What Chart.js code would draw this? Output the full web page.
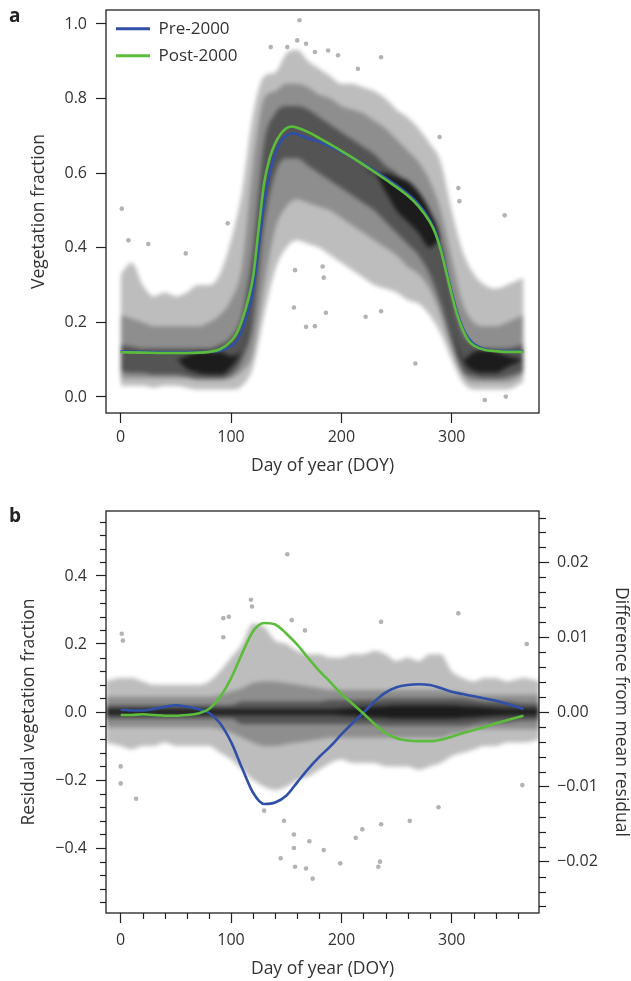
<!DOCTYPE html>
<html>
<head>
<meta charset="utf-8">
<script src="https://cdn.jsdelivr.net/npm/chart.js@4.4.1/dist/chart.umd.min.js"></script>
<style>
  body { margin: 0; background: #fff; width: 631px; height: 981px; position: relative; overflow: hidden; font-family: 'Open Sans', sans-serif; }
  .panel { position: absolute; left: 0; width: 631px; }
  .panel canvas { position: absolute; left: 0; top: 0; }
  .cloud { filter: blur(2px); }
  #cloudA { clip-path: inset(10px 92px 77px 106px); }
  #cloudB { clip-path: inset(21px 92px 68px 106px); }
  .tag { position: absolute; left: 9px; font-weight: 700; font-size: 19px; line-height: 19px; color: #222; z-index: 2; }
</style>
</head>
<body>
<div class="tag" style="top:6px">a</div>
<div class="panel" style="top:0;height:490px">
  <canvas id="cloudA" class="cloud" width="631" height="490"></canvas>
  <canvas id="chartA" width="631" height="490"></canvas>
</div>
<div class="tag" style="top:506px">b</div>
<div class="panel" style="top:490px;height:491px">
  <canvas id="cloudB" class="cloud" width="631" height="491"></canvas>
  <canvas id="chartB" width="631" height="491"></canvas>
</div>
<script>
// ---- panel a: vegetation fraction ----
const doyA = [0,10,20,30,40,50,60,70,80,90,100,110,120,130,140,150,160,170,180,190,200,210,220,230,240,250,260,270,280,290,300,310,320,330,340,350,365];
const curveDoyA = [0,20,40,60,80,90,100,105,110,115,120,125,130,135,140,145,150,155,160,170,180,200,220,240,260,270,280,285,290,295,300,305,310,315,320,330,340,350,365];
const preA  = [0.122,0.121,0.120,0.120,0.121,0.124,0.136,0.150,0.180,0.225,0.286,0.400,0.520,0.600,0.653,0.685,0.700,0.707,0.705,0.693,0.684,0.657,0.625,0.588,0.545,0.517,0.475,0.445,0.400,0.340,0.280,0.225,0.185,0.158,0.142,0.128,0.124,0.123,0.123];
const postA = [0.120,0.119,0.118,0.118,0.121,0.128,0.150,0.170,0.206,0.255,0.322,0.450,0.573,0.640,0.680,0.705,0.720,0.725,0.722,0.710,0.694,0.660,0.623,0.583,0.540,0.511,0.470,0.440,0.395,0.335,0.275,0.220,0.180,0.152,0.138,0.126,0.123,0.121,0.121];

// point-cloud envelopes (outer / mid / dark / core)
const aOutHi  = [0.33,0.36,0.30,0.27,0.28,0.27,0.28,0.30,0.30,0.33,0.42,0.55,0.76,0.86,0.87,0.92,0.93,0.90,0.88,0.86,0.84,0.84,0.83,0.82,0.80,0.77,0.75,0.72,0.68,0.63,0.50,0.39,0.33,0.30,0.29,0.30,0.32];
const aOutLo  = [0.03,0.03,0.03,0.025,0.03,0.03,0.025,0.02,0.02,0.02,0.02,0.03,0.08,0.22,0.34,0.40,0.42,0.41,0.40,0.38,0.36,0.34,0.32,0.30,0.29,0.28,0.26,0.25,0.22,0.17,0.10,0.04,0.02,0.02,0.02,0.02,0.04];
const aMidHi  = [0.22,0.21,0.20,0.19,0.19,0.19,0.19,0.19,0.20,0.22,0.26,0.35,0.62,0.80,0.82,0.84,0.84,0.83,0.81,0.80,0.78,0.77,0.76,0.74,0.72,0.69,0.66,0.63,0.58,0.50,0.37,0.25,0.20,0.19,0.19,0.20,0.22];
const aMidLo  = [0.05,0.05,0.05,0.05,0.05,0.05,0.05,0.045,0.045,0.045,0.05,0.07,0.12,0.30,0.45,0.51,0.53,0.52,0.51,0.50,0.48,0.46,0.44,0.42,0.40,0.38,0.35,0.33,0.29,0.22,0.13,0.06,0.04,0.04,0.04,0.04,0.06];
const aDarkHi = [0.14,0.135,0.13,0.13,0.13,0.13,0.13,0.13,0.13,0.14,0.16,0.22,0.40,0.68,0.76,0.78,0.78,0.77,0.75,0.73,0.71,0.69,0.67,0.65,0.62,0.60,0.57,0.54,0.49,0.40,0.27,0.17,0.14,0.13,0.13,0.13,0.14];
const aDarkLo = [0.07,0.065,0.065,0.06,0.06,0.06,0.055,0.05,0.05,0.05,0.06,0.10,0.20,0.46,0.60,0.64,0.64,0.62,0.60,0.58,0.56,0.54,0.52,0.50,0.47,0.44,0.41,0.38,0.33,0.25,0.15,0.07,0.055,0.05,0.05,0.055,0.07];
const aCoreHi = [0.10,0.10,0.10,0.10,0.10,0.10,0.11,0.12,0.12,0.12,0.11,0.13,0.25,0.55,0.70,0.72,0.72,0.71,0.69,0.67,0.65,0.63,0.61,0.60,0.60,0.59,0.58,0.55,0.50,0.42,0.20,0.10,0.12,0.125,0.12,0.11,0.10];
const aCoreLo = [0.10,0.10,0.10,0.10,0.10,0.10,0.075,0.065,0.06,0.06,0.08,0.13,0.25,0.55,0.70,0.72,0.72,0.71,0.69,0.67,0.65,0.63,0.61,0.60,0.55,0.50,0.47,0.44,0.40,0.42,0.20,0.10,0.07,0.065,0.065,0.08,0.10];

// isolated points
const outAx = [1,7,25,59,97,162,160,168,151,136,176,188,197,236,215,168,176,157,158,184,267,222,186,236,348,330,349,183,289,306,307];
const outAy = [0.505,0.42,0.41,0.385,0.466,1.01,0.956,0.947,0.938,0.938,0.925,0.929,0.916,0.911,0.88,0.188,0.19,0.24,0.34,0.32,0.09,0.215,0.226,0.23,0.487,-0.008,0.001,0.35,0.697,0.56,0.525];

const xTicks  = [0,100,200,300];
const yTicksA = [0,0.2,0.4,0.6,0.8,1.0];

// ---- panel b: residuals ----
const curveDoyB = doyA;
const preB  = [0.0003,0.0002,0.0002,0.0004,0.0007,0.0009,0.0007,0.0004,-0.0001,-0.0015,-0.004,-0.0075,-0.0108,-0.0123,-0.0121,-0.0112,-0.0094,-0.0076,-0.006,-0.0046,-0.003,-0.0015,-0.0001,0.0014,0.0026,0.0033,0.0036,0.0037,0.0036,0.0032,0.0027,0.0024,0.0021,0.0018,0.0015,0.0011,0.0004];
const postB = [-0.0004,-0.0004,-0.0003,-0.0004,-0.0005,-0.0005,-0.0004,-0.0002,0.0004,0.002,0.0045,0.0078,0.0108,0.0119,0.0117,0.0105,0.009,0.0072,0.0055,0.004,0.0024,0.0011,-0.0002,-0.0016,-0.0028,-0.0035,-0.0038,-0.0039,-0.0039,-0.0037,-0.0033,-0.0028,-0.0024,-0.002,-0.0015,-0.0011,-0.0005];

const doyB    = [-14,0,10,20,30,40,50,60,70,80,90,100,110,120,130,140,150,160,170,180,190,200,210,220,230,240,250,260,270,280,290,300,310,320,330,340,350,365,380];
const bOutHi  = [0.09,0.10,0.10,0.09,0.08,0.08,0.08,0.08,0.08,0.09,0.12,0.16,0.20,0.26,0.25,0.21,0.20,0.18,0.17,0.17,0.16,0.16,0.17,0.17,0.18,0.17,0.15,0.16,0.15,0.17,0.17,0.12,0.10,0.09,0.10,0.10,0.09,0.10,0.09];
const bOutLo  = [-0.09,-0.10,-0.11,-0.10,-0.10,-0.09,-0.10,-0.10,-0.10,-0.10,-0.12,-0.14,-0.17,-0.20,-0.22,-0.23,-0.22,-0.20,-0.19,-0.17,-0.15,-0.14,-0.15,-0.15,-0.15,-0.16,-0.16,-0.16,-0.17,-0.16,-0.15,-0.13,-0.12,-0.11,-0.10,-0.10,-0.09,-0.09,-0.08];
const bMidHi  = [0.045,0.045,0.045,0.045,0.045,0.045,0.045,0.045,0.045,0.045,0.05,0.06,0.07,0.085,0.09,0.09,0.085,0.08,0.075,0.07,0.065,0.065,0.065,0.065,0.065,0.065,0.065,0.065,0.065,0.065,0.065,0.06,0.055,0.05,0.05,0.05,0.05,0.05,0.05];
const bMidLo  = [-0.045,-0.045,-0.045,-0.045,-0.045,-0.045,-0.045,-0.045,-0.045,-0.045,-0.05,-0.06,-0.075,-0.09,-0.10,-0.10,-0.095,-0.09,-0.085,-0.08,-0.075,-0.075,-0.075,-0.075,-0.075,-0.075,-0.075,-0.075,-0.075,-0.075,-0.075,-0.065,-0.06,-0.05,-0.05,-0.05,-0.05,-0.05,-0.05];
const bDarkHi = [0.02,0.02,0.02,0.02,0.02,0.02,0.02,0.02,0.02,0.02,0.02,0.02,0.03,0.03,0.03,0.03,0.03,0.03,0.03,0.03,0.035,0.035,0.035,0.035,0.035,0.04,0.04,0.04,0.04,0.04,0.04,0.04,0.04,0.035,0.03,0.03,0.03,0.025,0.025];
const bDarkLo = [-0.02,-0.02,-0.02,-0.02,-0.02,-0.02,-0.02,-0.02,-0.02,-0.02,-0.02,-0.02,-0.035,-0.035,-0.035,-0.035,-0.035,-0.035,-0.035,-0.035,-0.035,-0.035,-0.035,-0.035,-0.035,-0.04,-0.04,-0.04,-0.04,-0.04,-0.04,-0.04,-0.04,-0.035,-0.03,-0.03,-0.03,-0.025,-0.025];
const bCoreHi = [0.008,0.008,0.008,0.008,0.008,0.008,0.008,0.008,0.008,0.008,0.008,0.008,0.008,0.008,0.008,0.008,0.008,0.008,0.008,0.008,0.008,0.01,0.012,0.014,0.016,0.018,0.02,0.02,0.02,0.02,0.02,0.02,0.018,0.016,0.014,0.012,0.01,0.01,0.01];
const bCoreLo = [-0.008,-0.008,-0.008,-0.008,-0.008,-0.008,-0.008,-0.008,-0.008,-0.008,-0.008,-0.008,-0.008,-0.008,-0.008,-0.008,-0.008,-0.008,-0.008,-0.008,-0.008,-0.01,-0.012,-0.014,-0.016,-0.018,-0.02,-0.02,-0.02,-0.02,-0.02,-0.02,-0.018,-0.016,-0.014,-0.012,-0.01,-0.01,-0.01];

const outBx = [1,2,0,0,14,93,93,98,118,119,151,155,167,130,148,157,157,145,158,168,174,171,184,199,213,219,233.5,235,236,262,288,364,368,306,236];
const outBy = [0.23,0.21,-0.21,-0.16,-0.255,0.276,0.22,0.28,0.33,0.31,0.464,0.27,0.24,-0.29,-0.32,-0.36,-0.40,-0.43,-0.455,-0.46,-0.49,-0.38,-0.406,-0.445,-0.37,-0.345,-0.455,-0.44,-0.33,-0.32,-0.28,-0.215,0.20,0.29,0.265];

const yTicksB  = [-0.4,-0.2,0,0.2,0.4];
const y2TicksB = [-0.02,-0.01,0,0.01,0.02];
const xMinorB  = [20,40,60,80,120,140,160,180,220,240,260,280,320,340,360];
const yMinorB  = [-0.56,-0.52,-0.48,-0.44,-0.36,-0.32,-0.28,-0.24,-0.16,-0.12,-0.08,-0.04,0.04,0.08,0.12,0.16,0.24,0.28,0.32,0.36,0.44,0.48,0.52,0.56];
const y2MinorB = [-0.026,-0.024,-0.022,-0.018,-0.016,-0.014,-0.012,-0.008,-0.006,-0.004,-0.002,0.002,0.004,0.006,0.008,0.012,0.014,0.016,0.018,0.022,0.024,0.026];

const BLUE = '#2f4fa8', GREEN = '#5cbd3c';
const SHADES = ['#bdbdbd', '#8e8e8e', '#545454', '#1c1c1c'];
const INK = '#333';

Chart.defaults.font.family = "'Open Sans', sans-serif";
Chart.defaults.color = INK;

function pts(xs, ys) { return xs.map((x, i) => ({ x: x, y: ys[i] })); }

function band(xs, hi, lo, color, order) {
  const base = { type: 'line', borderColor: 'transparent', borderWidth: 0, pointRadius: 0, cubicInterpolationMode: 'monotone', order: order };
  return [
    Object.assign({}, base, { data: pts(xs, hi), fill: '+1', backgroundColor: color }),
    Object.assign({}, base, { data: pts(xs, lo), fill: false })
  ];
}

function curve(label, xs, ys, color, order, axis) {
  return { type: 'line', label: label, data: pts(xs, ys), borderColor: color, backgroundColor: color, borderWidth: 2.6,
           pointRadius: 0, fill: false, cubicInterpolationMode: 'monotone', order: order, yAxisID: axis };
}

function dots(xs, ys) {
  return { type: 'scatter', data: pts(xs, ys), backgroundColor: '#b3b3b3', borderWidth: 0, pointRadius: 2.3, order: 20, yAxisID: 'y' };
}

function fmt(d) { return v => v === 0 ? (0).toFixed(d) : (v < 0 ? '\u2212' : '') + Math.abs(v).toFixed(d); }

const framePlugin = {
  id: 'frame',
  afterDatasetsDraw(chart) {
    const { ctx, chartArea: a } = chart;
    ctx.save();
    ctx.strokeStyle = '#222';
    ctx.lineWidth = 1.3;
    ctx.strokeRect(a.left, a.top, a.right - a.left, a.bottom - a.top);
    ctx.restore();
  }
};

const minorPlugin = {
  id: 'minorTicks',
  afterDraw(chart, args, opts) {
    const ctx = chart.ctx;
    (opts.axes || []).forEach(m => {
      const s = chart.scales[m.id];
      ctx.save();
      ctx.strokeStyle = '#222';
      ctx.lineWidth = 1.2;
      m.values.forEach(v => {
        const p = Math.round(s.getPixelForValue(v)) + 0.5;
        ctx.beginPath();
        if (s.position === 'bottom') { ctx.moveTo(p, s.top); ctx.lineTo(p, s.top + m.len); }
        else if (s.position === 'left') { ctx.moveTo(s.right, p); ctx.lineTo(s.right - m.len, p); }
        else { ctx.moveTo(s.left, p); ctx.lineTo(s.left + m.len, p); }
        ctx.stroke();
      });
      ctx.restore();
    });
  }
};

// one axis; 'show' false keeps the same box but draws nothing (for the cloud layer)
function axis(show, o) {
  const c = show ? INK : 'transparent';
  return {
    type: 'linear',
    position: o.position,
    min: o.min, max: o.max,
    border: { display: false },
    grid: { drawOnChartArea: false, drawTicks: true, tickLength: 10, color: show ? '#222' : 'transparent', tickWidth: 1.2 },
    afterBuildTicks: s => { s.ticks = o.ticks.map(v => ({ value: v })); },
    afterFit: s => {
      if (s.isHorizontal()) { s.height = o.size; s.paddingLeft = 0; s.paddingRight = 0; }
      else { s.width = o.size; s.paddingTop = 0; s.paddingBottom = 0; }
    },
    ticks: { padding: o.pad, font: { size: 16 }, color: c, callback: o.fmt },
    title: { display: true, text: o.title, font: { size: 17.5 }, color: c, padding: o.titlePad }
  };
}

function scalesA(show) {
  return {
    x: axis(show, { position: 'bottom', min: -13.3, max: 379.1, ticks: xTicks, size: 77, pad: 5, fmt: v => String(v),
                    title: 'Day of year (DOY)', titlePad: { top: 0, bottom: 13 } }),
    y: axis(show, { position: 'left', min: -0.0429, max: 1.0375, ticks: yTicksA, size: 106, pad: 9, fmt: fmt(1),
                    title: 'Vegetation fraction', titlePad: { top: 29, bottom: 0 } })
  };
}

function scalesB(show) {
  return {
    x: axis(show, { position: 'bottom', min: -13.3, max: 379.1, ticks: xTicks, size: 68, pad: 8, fmt: v => String(v),
                    title: 'Day of year (DOY)', titlePad: { top: 0, bottom: 1 } }),
    y: axis(show, { position: 'left', min: -0.591, max: 0.591, ticks: yTicksB, size: 106, pad: 9, fmt: fmt(1),
                    title: 'Residual vegetation fraction', titlePad: { top: 19, bottom: 0 } }),
    y2: axis(show, { position: 'right', min: -0.02687, max: 0.02687, ticks: y2TicksB, size: 92, pad: 8, fmt: fmt(2),
                     title: 'Difference from mean residual', titlePad: { top: 0, bottom: 0 } })
  };
}

const padA = { top: 10, right: 92, left: 0, bottom: 0 };
const padB = { top: 21, right: 0, left: 0, bottom: 0 };
const quiet = { tooltip: { enabled: false }, legend: { display: false } };

// ---- panel a: cloud layer ----
new Chart(document.getElementById('cloudA'), {
  type: 'line',
  data: { datasets: [
    ...band(doyA, aOutHi, aOutLo, SHADES[0], 10),
    ...band(doyA, aMidHi, aMidLo, SHADES[1], 9),
    ...band(doyA, aDarkHi, aDarkLo, SHADES[2], 8),
    ...band(doyA, aCoreHi, aCoreLo, SHADES[3], 7)
  ] },
  options: { responsive: false, animation: false, layout: { padding: padA }, plugins: quiet, scales: scalesA(false) }
});

// ---- panel a: axes, curves, legend ----
new Chart(document.getElementById('chartA'), {
  type: 'line',
  data: { datasets: [
    curve('Pre-2000', curveDoyA, preA, BLUE, 1, 'y'),
    curve('Post-2000', curveDoyA, postA, GREEN, 0, 'y'),
    dots(outAx, outAy)
  ] },
  options: {
    responsive: false,
    animation: false,
    layout: { padding: padA },
    plugins: {
      tooltip: { enabled: false },
      legend: {
        position: 'chartArea',
        align: 'start',
        title: { display: true, text: ' ', font: { size: 1 }, padding: { top: 0, bottom: 9 } },
        labels: {
          boxWidth: 34, boxHeight: 3, padding: 10, color: INK, font: { size: 17 },
          generateLabels: chart => [0, 1].map(i => {
            const ds = chart.data.datasets[i];
            return { text: ds.label, fillStyle: ds.borderColor, strokeStyle: ds.borderColor, lineWidth: 0, hidden: false, datasetIndex: i, fontColor: INK };
          })
        }
      }
    },
    scales: scalesA(true)
  },
  plugins: [framePlugin]
});

// ---- panel b: cloud layer ----
new Chart(document.getElementById('cloudB'), {
  type: 'line',
  data: { datasets: [
    ...band(doyB, bOutHi, bOutLo, SHADES[0], 10),
    ...band(doyB, bMidHi, bMidLo, SHADES[1], 9),
    ...band(doyB, bDarkHi, bDarkLo, SHADES[2], 8),
    ...band(doyB, bCoreHi, bCoreLo, SHADES[3], 7)
  ] },
  options: { responsive: false, animation: false, layout: { padding: padB }, plugins: quiet, scales: scalesB(false) }
});

// ---- panel b: axes, curves ----
new Chart(document.getElementById('chartB'), {
  type: 'line',
  data: { datasets: [
    curve('Pre-2000', curveDoyB, preB, BLUE, 1, 'y2'),
    curve('Post-2000', curveDoyB, postB, GREEN, 0, 'y2'),
    dots(outBx, outBy)
  ] },
  options: {
    responsive: false,
    animation: false,
    layout: { padding: padB },
    plugins: {
      tooltip: { enabled: false },
      legend: { display: false },
      minorTicks: {
        axes: [
          { id: 'x', values: xMinorB, len: 6 },
          { id: 'y', values: yMinorB, len: 6 },
          { id: 'y2', values: y2MinorB, len: 7 }
        ]
      }
    },
    scales: scalesB(true)
  },
  plugins: [framePlugin, minorPlugin]
});
</script>
</body>
</html>
